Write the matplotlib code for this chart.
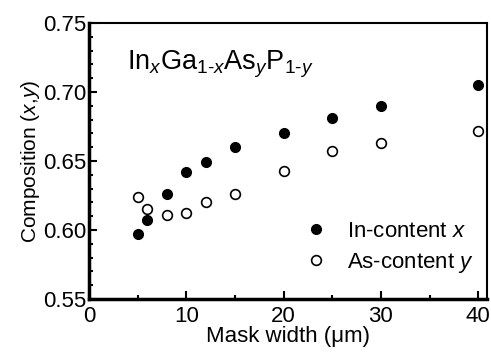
import numpy as np
import matplotlib.pyplot as plt
from matplotlib.ticker import MultipleLocator

plt.rcParams['font.family'] = ['Liberation Sans', 'DejaVu Sans']
plt.rcParams['mathtext.fontset'] = 'custom'
plt.rcParams['mathtext.rm'] = 'Liberation Sans'
plt.rcParams['mathtext.it'] = 'Liberation Sans:italic'

# data
mask_width = [5, 6, 8, 10, 12, 15, 20, 25, 30, 40]
in_content = [0.597, 0.607, 0.626, 0.642, 0.649, 0.660, 0.670, 0.681, 0.690, 0.705]
as_content = [0.624, 0.615, 0.611, 0.612, 0.620, 0.626, 0.643, 0.657, 0.663, 0.672]

fig = plt.figure(figsize=(4.91, 3.52), dpi=100)
ax = fig.add_axes([89 / 491, 1 - 299 / 352, (487 - 89) / 491, (299 - 23) / 352])

ax.plot(mask_width, in_content, 'o', color='black', ms=7, label='In-content $x$')
ax.plot(mask_width, as_content, 'o', mfc='white', mec='black', mew=1.2, ms=7,
        label='As-content $y$')

ax.set_xlim(0, 40.9)
ax.set_ylim(0.55, 0.75)
ax.xaxis.set_major_locator(MultipleLocator(10))
ax.xaxis.set_minor_locator(MultipleLocator(5))
ax.yaxis.set_major_locator(MultipleLocator(0.05))
ax.yaxis.set_minor_locator(MultipleLocator(0.01))
ax.yaxis.set_major_formatter(plt.FormatStrFormatter('%.2f'))
ax.tick_params(which='both', direction='in', width=1.5, labelsize=16)
ax.tick_params(axis='x', pad=5)
ax.tick_params(axis='y', pad=2)
ax.tick_params(which='major', length=6)
ax.tick_params(which='minor', length=3)
for s in ax.spines.values():
    s.set_linewidth(1.5)
ax.spines['left'].set_linewidth(2.5)
ax.spines['bottom'].set_linewidth(2.5)

ax.set_xlabel('Mask width (μm)', fontsize=16, labelpad=-1)
ax.set_ylabel('Composition ($x$,$y$)', fontsize=15, labelpad=1)

ax.text(0.095, 0.85, 'In$_x$Ga$_{1\\text{-}x}$As$_y$P$_{1\\text{-}y}$', transform=ax.transAxes,
        fontsize=19.5, va='center', ha='left')

ax.legend(loc='lower right', frameon=False, fontsize=16, handletextpad=0.6,
          borderaxespad=0.2, labelspacing=0.4, handlelength=1.6,
          bbox_to_anchor=(1.0, 0.04))

fig.savefig('out.png', dpi=100)
